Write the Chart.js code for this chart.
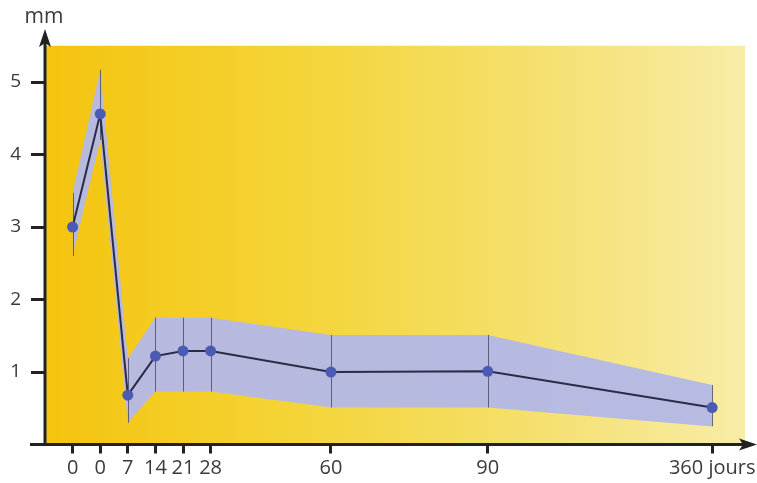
<!DOCTYPE html>
<html><head><meta charset="utf-8">
<script src="https://cdn.jsdelivr.net/npm/chart.js@4/dist/chart.umd.min.js"></script>
<style>html,body{margin:0;padding:0;background:#fff}#w{width:757px;height:483px}</style>
</head><body><div id="w"><canvas id="c" width="757" height="483"></canvas></div>
<script>
// Days (category labels) and their position slots along the non-linear time axis
const dayLabels = ['0', '0', '7', '14', '21', '28', '60', '90', '360 jours'];
const xSlot     = [0, 1, 2, 3, 4, 5, 9.36, 15.04, 23.17];
// Mean thickness (mm) with upper and lower bounds of the spread
const meanMM  = [3.0, 4.56, 0.68, 1.22, 1.29, 1.29, 1.0, 1.01, 0.51];
const upperMM = [3.47, 5.17, 1.19, 1.75, 1.75, 1.75, 1.51, 1.51, 0.82];
const lowerMM = [2.6, 4.2, 0.3, 0.73, 0.73, 0.73, 0.51, 0.51, 0.25];
const yTicks  = [1, 2, 3, 4, 5];

const pts = a => a.map((v, i) => ({x: xSlot[i], y: v}));
const FONT = '"Open Sans", "Liberation Sans", sans-serif';
const TXT = '#3a3a3a';

const bgPlugin = {
  id: 'bg',
  beforeDraw(chart) {
    const {ctx, chartArea: a} = chart;
    const g = ctx.createLinearGradient(a.left, 0, a.right, 0);
    g.addColorStop(0, '#f4c40e');
    g.addColorStop(0.35, '#f4d436');
    g.addColorStop(0.7, '#f5e06e');
    g.addColorStop(1, '#f8eca8');
    ctx.save();
    ctx.fillStyle = g;
    ctx.fillRect(a.left, a.top, a.right - a.left, a.bottom - a.top);
    ctx.restore();
  },
  beforeDatasetsDraw(chart) {
    // vertical spread lines
    const {ctx, scales: {x, y}} = chart;
    ctx.save();
    ctx.strokeStyle = 'rgba(70,70,100,0.8)';
    ctx.lineWidth = 1;
    xSlot.forEach((s, i) => {
      const px = Math.round(x.getPixelForValue(s)) + 0.5;
      ctx.beginPath();
      ctx.moveTo(px, y.getPixelForValue(upperMM[i]));
      ctx.lineTo(px, y.getPixelForValue(lowerMM[i]));
      ctx.stroke();
    });
    ctx.restore();
  },
  afterDraw(chart) {
    const {ctx, chartArea: a} = chart;
    ctx.save();
    ctx.strokeStyle = '#222';
    ctx.fillStyle = '#222';
    ctx.lineWidth = 3;
    // y axis
    ctx.beginPath(); ctx.moveTo(a.left, a.bottom + 1); ctx.lineTo(a.left, 36); ctx.stroke();
    ctx.beginPath(); ctx.moveTo(a.left, 29); ctx.lineTo(a.left - 6, 47); ctx.lineTo(a.left, 43); ctx.lineTo(a.left + 6, 47); ctx.closePath(); ctx.fill();
    // x axis
    ctx.beginPath(); ctx.moveTo(30, a.bottom); ctx.lineTo(748, a.bottom); ctx.stroke();
    ctx.beginPath(); ctx.moveTo(757, a.bottom); ctx.lineTo(739, a.bottom - 6); ctx.lineTo(743, a.bottom); ctx.lineTo(739, a.bottom + 6); ctx.closePath(); ctx.fill();
    // mm label
    ctx.font = '21px ' + FONT;
    ctx.fillStyle = TXT;
    ctx.textAlign = 'center'; ctx.textBaseline = 'middle';
    ctx.fillText('mm', 44, 17);
    ctx.restore();
  }
};

new Chart(document.getElementById('c'), {
  type: 'line',
  data: {
    datasets: [
      {data: pts(upperMM), borderWidth: 0, pointRadius: 0, fill: '+1', backgroundColor: 'rgba(181,185,228,0.97)', tension: 0},
      {data: pts(lowerMM), borderWidth: 0, pointRadius: 0, fill: false, tension: 0},
      {data: pts(meanMM), borderColor: '#2b2b48', borderWidth: 2, pointRadius: 5.5, pointBackgroundColor: '#4b5bb5', pointBorderWidth: 0, fill: false, tension: 0}
    ]
  },
  options: {
    responsive: false, animation: false,
    layout: {padding: {top: 45.75, right: 12, left: 0, bottom: 0}},
    plugins: {legend: {display: false}, tooltip: {enabled: false}, filler: {drawTime: 'beforeDatasetsDraw'}},
    scales: {
      x: {
        type: 'linear', min: -1, max: 24.36,
        afterBuildTicks: s => { s.ticks = xSlot.map(v => ({value: v})); },
        afterFit: s => { s.height = 38.5; s.paddingRight = 0; s.paddingLeft = 0; },
        grid: {display: true, drawOnChartArea: false, tickLength: 9, tickWidth: 3, tickColor: '#222'},
        border: {display: false},
        ticks: {
          autoSkip: false, maxRotation: 0, padding: 3, color: TXT,
          font: {family: FONT, size: 20},
          callback: (v, i) => dayLabels[i]
        }
      },
      y: {
        type: 'linear', min: 0, max: 5.5,
        afterBuildTicks: s => { s.ticks = yTicks.map(v => ({value: v})); },
        afterFit: s => { s.width = 45; s.paddingTop = 0; s.paddingBottom = 0; },
        grid: {display: true, drawOnChartArea: false, tickLength: 14, tickWidth: 3, tickColor: '#222'},
        border: {display: false},
        ticks: {padding: 10, color: TXT, font: {family: FONT, size: 19}, callback: v => String(v)}
      }
    }
  },
  plugins: [bgPlugin]
});
</script></body></html>
